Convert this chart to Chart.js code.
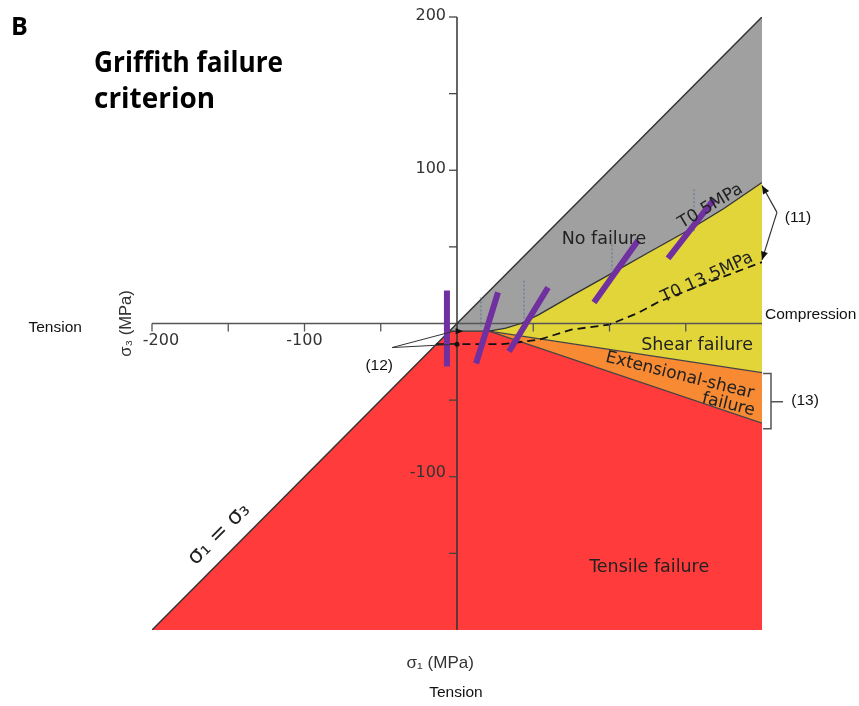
<!DOCTYPE html>
<html><head><meta charset="utf-8">
<script src="https://cdn.jsdelivr.net/npm/chart.js@4.4.1/dist/chart.umd.min.js"></script>
<style>html,body{margin:0;padding:0;background:#fff;}canvas{display:block;}</style>
</head><body>
<canvas id="c" width="859" height="706"></canvas>
<script>
// ---- data (MPa) ----
const axisMin = -200, axisMax = 200;
const diagonal = [[-200,-200],[200,200]];                       // sigma1 = sigma3
const curveT05 = [[-5,-5],[21,-5],[32,-3],[42,0],[54,6],[75,18],[102,33],[125,46],[152,61],[175,75],[200,92]]; // T0 5MPa
const curveT135 = [[-13.5,-13.5],[30,-13.5],[54,-10.5],[75,-4],[100,-0.7],[119,7],[132,14],[165,27],[200,40]]; // T0 13.5MPa
const shearLine = [[21,-5],[200,-32]];
const tensileLine = [[21,-5],[200,-65]];
const purpleBars = [
  [[-6.6,21.6],[-6.6,-28.1]],
  [[12.5,-26.1],[26.9,20.3]],
  [[34.1,-18.3],[59.7,23.5]],
  [[89.8,13.7],[118.7,54.2]],
  [[138.4,42.5],[168.5,81]]
];
const guideLines = [
  [[15.7,17],[15.7,-2]],
  [[44,28],[44,2.6]],
  [[101.6,51.6],[101.6,35.3]],
  [[155.4,87.6],[155.4,60]]
];
const xTickValues = [-200,-150,-100,-50,50,100,150];
const xTickLabels = [-200,-100];
const yTickValues = [200,150,100,50,-50,-100,-150];
const yTickLabels = [200,100,-100];
const ptr12 = {tip:[-42.6,-15.7], a:[0,-5], b:[0,-13.5]};
const ptr11 = {apex:[209.8,72.5], a:[200,90], b:[200,41.5]};
const brace13 = {x:205.9, top:-32.7, bottom:-68.6, mid:-51, hook:200.7, stub:213.8};

// ---- region polygons built from the curves ----
const grayPoly = [curveT05[0], diagonal[1], ...curveT05.slice().reverse()];
const yellowPoly = [...curveT05.slice(1), shearLine[1], shearLine[0]];
const orangePoly = [shearLine[0], shearLine[1], tensileLine[1], tensileLine[0]];
const redPoly = [diagonal[0], curveT05[0], curveT05[1], tensileLine[1], [axisMax, axisMin]];

const P = a => a.map(p => ({x:p[0], y:p[1]}));
const base = {showLine:true, pointRadius:0, pointHoverRadius:0, tension:0};
const datasets = [
  {...base, data:P(redPoly), fill:'shape', backgroundColor:'#ff3b3b', borderWidth:0, order:20},
  {...base, data:P(orangePoly), fill:'shape', backgroundColor:'#f78a33', borderWidth:0, order:19},
  {...base, data:P(yellowPoly), fill:'shape', backgroundColor:'#e2d53a', borderWidth:0, order:18},
  {...base, data:P(grayPoly), fill:'shape', backgroundColor:'#a0a0a0', borderWidth:0, order:17},
  // axes
  {...base, data:P([[axisMin,0],[axisMax,0]]), borderColor:'#555', borderWidth:1.5, fill:false, order:9},
  {...base, data:P([[0,axisMin],[0,axisMax]]), borderColor:'#333', borderWidth:1.5, fill:false, order:9},
  // boundaries
  {...base, data:P(diagonal), borderColor:'#333', borderWidth:1.5, fill:false, order:6},
  {...base, data:P(curveT05), borderColor:'#333', borderWidth:1.3, fill:false, order:6},
  {...base, data:P(shearLine), borderColor:'#444', borderWidth:1.2, fill:false, order:6},
  {...base, data:P(tensileLine), borderColor:'#444', borderWidth:1.2, fill:false, order:6},
  {...base, data:P(curveT135), borderColor:'#111', borderWidth:1.8, borderDash:[8,5], fill:false, order:5},
];
guideLines.forEach(g => datasets.push({...base, data:P(g), borderColor:'#5b7391', borderWidth:1, borderDash:[2,2], fill:false, order:4}));
purpleBars.forEach(b => datasets.push({...base, data:P(b), borderColor:'#7030a0', borderWidth:6, borderCapStyle:'butt', fill:false, order:1}));

function arrowHead(ctx, x1, y1, x2, y2, size){
  const ang = Math.atan2(y2-y1, x2-x1);
  ctx.beginPath();
  ctx.moveTo(x2, y2);
  ctx.lineTo(x2 - size*Math.cos(ang-0.4), y2 - size*Math.sin(ang-0.4));
  ctx.lineTo(x2 - size*Math.cos(ang+0.4), y2 - size*Math.sin(ang+0.4));
  ctx.closePath(); ctx.fill();
}

const annot = {
  id:'annot',
  afterDatasetsDraw(chart){
    const ctx = chart.ctx, xs = chart.scales.x, ys = chart.scales.y;
    const X = v => xs.getPixelForValue(v), Y = v => ys.getPixelForValue(v);
    const x0 = X(0), y0 = Y(0);
    ctx.save();
    // tick marks
    ctx.strokeStyle = '#555'; ctx.lineWidth = 1.3;
    xTickValues.forEach(v => { ctx.beginPath(); ctx.moveTo(X(v), y0); ctx.lineTo(X(v), y0+8); ctx.stroke(); });
    ctx.strokeStyle = '#444';
    yTickValues.forEach(v => { ctx.beginPath(); ctx.moveTo(x0, Y(v)); ctx.lineTo(x0-8, Y(v)); ctx.stroke(); });
    // tick labels
    ctx.fillStyle = '#333'; ctx.font = "16px 'DejaVu Sans'";
    ctx.textAlign = 'center'; ctx.textBaseline = 'top';
    xTickLabels.forEach(v => ctx.fillText(String(v), X(v) + (v === -200 ? 9 : 0), y0 + 9));
    ctx.textAlign = 'right'; ctx.textBaseline = 'middle';
    yTickLabels.forEach(v => ctx.fillText(String(v), x0 - 11, Y(v) + (v < 0 ? -4 : -1)));

    const txt = (s, x, y, font, opt={}) => {
      ctx.save();
      ctx.font = font; ctx.fillStyle = opt.color || '#222';
      ctx.textAlign = opt.align || 'center'; ctx.textBaseline = 'middle';
      ctx.translate(X(x), Y(y));
      if (opt.angle) ctx.rotate(opt.angle*Math.PI/180);
      if (opt.width) { const w = ctx.measureText(s).width; ctx.scale(opt.width/w, 1); }
      ctx.fillText(s, 0, 0);
      ctx.restore();
    };
    const lab = "17.5px 'DejaVu Sans'";
    txt('No failure', 96.4, 55, lab);
    txt('T0 5MPa', 166.3, 76.5, "17px 'DejaVu Sans'", {angle:-31});
    txt('T0 13.5MPa', 164, 30, "17px 'DejaVu Sans'", {angle:-25});
    txt('Shear failure', 157.4, -14, lab);
    txt('Extensional-shear', 146, -34, "17px 'DejaVu Sans'", {angle:14});
    txt('failure', 178, -53, "17px 'DejaVu Sans'", {angle:14});
    txt('Tensile failure', 126, -159, lab);
    txt('σ₁ = σ₃', -156, -137.5, "22px 'DejaVu Sans'", {angle:-45});

    const side = "15.5px 'Liberation Sans'";
    txt('Tension', -263.5, -2.5, side, {color:'#111'});
    txt('Compression', 202, 6, side, {align:'left', color:'#111'});
    txt('Tension', -0.7, -241, side, {color:'#111'});
    txt('σ₃ (MPa)', -217, 0, "16.5px 'Liberation Sans'", {angle:-90, color:'#333'});
    txt('σ₁ (MPa)', -11, -221.5, "17px 'Liberation Sans'", {color:'#333'});
    txt('(12)', -51, -27.5, side, {color:'#111'});
    txt('(11)', 223.6, 69.3, side, {color:'#111'});
    txt('(13)', 228.2, -50.3, side, {color:'#111'});

    txt('B', -287, 193, "bold 25px 'Open Sans'", {color:'#000'});
    txt('Griffith failure', -238, 169.5, "bold 28px 'Open Sans'", {align:'left', color:'#000', width:189});
    txt('criterion', -238, 146, "bold 28px 'Open Sans'", {align:'left', color:'#000', width:121});

    // pointer (12)
    ctx.strokeStyle = '#333'; ctx.fillStyle = '#111'; ctx.lineWidth = 1;
    ctx.beginPath();
    ctx.moveTo(X(ptr12.a[0])-3, Y(ptr12.a[1])); ctx.lineTo(X(ptr12.tip[0]), Y(ptr12.tip[1]));
    ctx.lineTo(X(ptr12.b[0]), Y(ptr12.b[1]));
    ctx.stroke();
    arrowHead(ctx, X(ptr12.a[0])-8, Y(ptr12.a[1]), X(ptr12.a[0])+6, Y(ptr12.a[1]), 8);
    ctx.beginPath(); ctx.arc(X(ptr12.b[0]), Y(ptr12.b[1]), 2.5, 0, Math.PI*2); ctx.fill();

    // arrows (11)
    ctx.strokeStyle = '#333'; ctx.lineWidth = 1.2;
    [ptr11.a, ptr11.b].forEach(t => {
      ctx.beginPath(); ctx.moveTo(X(ptr11.apex[0]), Y(ptr11.apex[1])); ctx.lineTo(X(t[0]), Y(t[1])); ctx.stroke();
      arrowHead(ctx, X(ptr11.apex[0]), Y(ptr11.apex[1]), X(t[0]), Y(t[1]), 9);
    });

    // brace (13)
    ctx.strokeStyle = '#555'; ctx.lineWidth = 1.5;
    ctx.beginPath();
    ctx.moveTo(X(brace13.hook), Y(brace13.top)); ctx.lineTo(X(brace13.x), Y(brace13.top));
    ctx.lineTo(X(brace13.x), Y(brace13.bottom)); ctx.lineTo(X(brace13.hook), Y(brace13.bottom));
    ctx.moveTo(X(brace13.x), Y(brace13.mid)); ctx.lineTo(X(brace13.stub), Y(brace13.mid));
    ctx.stroke();
    ctx.restore();
  }
};

new Chart(document.getElementById('c'), {
  type:'scatter',
  data:{datasets},
  options:{
    responsive:false, animation:false, events:[],
    layout:{padding:{left:152, right:97, top:17, bottom:76}},
    scales:{
      x:{type:'linear', min:axisMin, max:axisMax, display:false},
      y:{type:'linear', min:axisMin, max:axisMax, display:false}
    },
    plugins:{legend:{display:false}, tooltip:{enabled:false}, title:{display:false}}
  },
  plugins:[annot]
});
</script>
</body></html>
